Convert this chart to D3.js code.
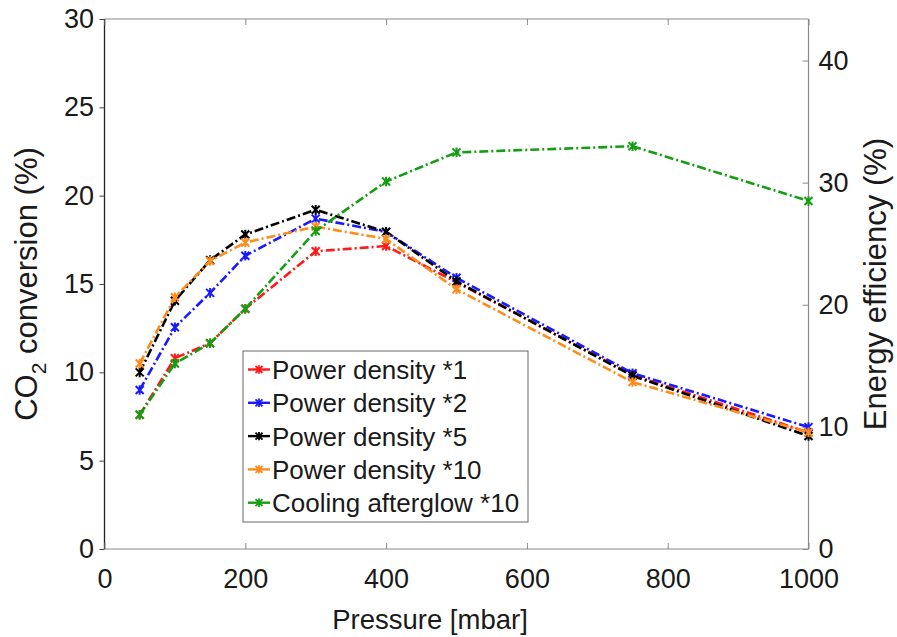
<!DOCTYPE html>
<html>
<head>
<meta charset="utf-8">
<script src="https://cdn.jsdelivr.net/npm/d3@7"></script>
<style>
  html, body { margin: 0; padding: 0; background: #fff; }
  svg text { font-family: Arial, "Liberation Sans", sans-serif; fill: #1a1a1a; }
</style>
</head>
<body>
<div id="chart"></div>
<script>
// pressure (mbar)
const pressure = [50, 100, 150, 200, 300, 400, 500, 750, 1000];

// CO2 conversion (%) per series
const pd1  = [7.6, 10.8, 11.65, 13.6, 16.85, 17.15, 15.1, 9.85, 6.6];
const pd2  = [9.0, 12.55, 14.5, 16.6, 18.7, 17.95, 15.35, 9.95, 6.9];
const pd5  = [10.0, 14.05, 16.35, 17.8, 19.2, 17.95, 15.15, 9.8, 6.4];
const pd10 = [10.5, 14.25, 16.3, 17.35, 18.25, 17.55, 14.7, 9.45, 6.6];
const cool10 = [7.6, 10.5, 11.65, 13.6, 18.0, 20.8, 22.45, 22.8, 19.7];

const seriesNames = ['Power density *1', 'Power density *2', 'Power density *5',
                     'Power density *10', 'Cooling afterglow *10'];
const seriesColors = ['#ff1a1a', '#1a1aff', '#000000', '#ff8c1a', '#149e14'];
const seriesValues = [pd1, pd2, pd5, pd10, cool10];

const xTicks = [0, 200, 400, 600, 800, 1000];
const yLeftTicks = [0, 5, 10, 15, 20, 25, 30];
const yRightTicks = [0, 10, 20, 30, 40];

const W = 897, H = 637;
const box = { left: 104.5, right: 808.5, top: 19, bottom: 549 };

const svg = d3.select('#chart').append('svg')
  .attr('width', W).attr('height', H);

const x = d3.scaleLinear().domain([0, 1000]).range([box.left, box.right]);
const yL = d3.scaleLinear().domain([0, 30]).range([box.bottom, box.top]);
const yR = d3.scaleLinear().domain([0, 43.4]).range([box.bottom, box.top]);

// frame lines
const grey = '#8a8a8a';
svg.append('line').attr('x1', box.left).attr('x2', box.right)
  .attr('y1', box.top).attr('y2', box.top).attr('stroke', grey).attr('stroke-width', 1.2);
svg.append('line').attr('x1', box.left).attr('x2', box.right)
  .attr('y1', box.bottom).attr('y2', box.bottom).attr('stroke', grey).attr('stroke-width', 1.2);
svg.append('line').attr('x1', box.right).attr('x2', box.right)
  .attr('y1', box.top).attr('y2', box.bottom).attr('stroke', grey).attr('stroke-width', 1.2);
svg.append('line').attr('x1', box.left).attr('x2', box.left)
  .attr('y1', box.top).attr('y2', box.bottom).attr('stroke', '#222').attr('stroke-width', 1.3);

const tickFont = 27;

// bottom axis (ticks inward)
const xAxis = svg.append('g')
  .attr('transform', `translate(0,${box.bottom})`)
  .call(d3.axisBottom(x).tickValues(xTicks).tickFormat(d3.format('d'))
    .tickSizeInner(-6).tickSizeOuter(0).tickPadding(20));
xAxis.select('.domain').remove();
xAxis.selectAll('.tick line').attr('stroke', grey);
xAxis.selectAll('.tick text').attr('font-size', tickFont).attr('fill', '#1a1a1a');

// top ticks (inward)
const xTop = svg.append('g')
  .attr('transform', `translate(0,${box.top})`)
  .call(d3.axisTop(x).tickValues(xTicks).tickSizeInner(-6).tickSizeOuter(0).tickFormat(''));
xTop.select('.domain').remove();
xTop.selectAll('.tick line').attr('stroke', grey);

// left axis (ticks outward)
const yAxisL = svg.append('g')
  .attr('transform', `translate(${box.left},0)`)
  .call(d3.axisLeft(yL).tickValues(yLeftTicks).tickSizeInner(5).tickSizeOuter(0).tickPadding(5.5));
yAxisL.select('.domain').remove();
yAxisL.selectAll('.tick line').attr('stroke', '#444');
yAxisL.selectAll('.tick text').attr('font-size', tickFont).attr('fill', '#1a1a1a');

// right axis (ticks inward)
const yAxisR = svg.append('g')
  .attr('transform', `translate(${box.right},0)`)
  .call(d3.axisRight(yR).tickValues(yRightTicks).tickSizeInner(-6).tickSizeOuter(0).tickPadding(10));
yAxisR.select('.domain').remove();
yAxisR.selectAll('.tick line').attr('stroke', grey);
yAxisR.selectAll('.tick text').attr('font-size', tickFont).attr('fill', '#1a1a1a');

// axis titles
svg.append('text')
  .attr('x', 430).attr('y', 629)
  .attr('text-anchor', 'middle').attr('font-size', 27.5)
  .text('Pressure [mbar]');

const yt = svg.append('text')
  .attr('transform', `translate(37,${(box.top + box.bottom) / 2}) rotate(-90)`)
  .attr('text-anchor', 'middle').attr('font-size', 31);
yt.append('tspan').text('CO');
yt.append('tspan').attr('font-size', 21).attr('dy', 9).text('2');
yt.append('tspan').attr('dy', -9).text(' conversion (%)');

svg.append('text')
  .attr('transform', `translate(886,${(box.top + box.bottom) / 2}) rotate(-90)`)
  .attr('text-anchor', 'middle').attr('font-size', 31)
  .text('Energy efficiency (%)');

// lines
const line = d3.line()
  .x((d, i) => x(pressure[i]))
  .y(d => yL(d));

const dash = '9,3,2,3';
const starPath = (s) => `M${-s},${-s}L${s},${s}M${-s},${s}L${s},${-s}M0,${-s * 1.2}L0,${s * 1.2}`;

const plot = svg.append('g');
seriesValues.forEach((vals, k) => {
  const g = plot.append('g');
  g.append('path')
    .datum(vals)
    .attr('d', line)
    .attr('fill', 'none')
    .attr('stroke', seriesColors[k])
    .attr('stroke-width', 2.6)
    .attr('stroke-dasharray', dash);
  g.selectAll('path.mk')
    .data(vals)
    .join('path')
    .attr('class', 'mk')
    .attr('transform', (d, i) => `translate(${x(pressure[i])},${yL(d)})`)
    .attr('d', starPath(4))
    .attr('fill', 'none')
    .attr('stroke', seriesColors[k])
    .attr('stroke-width', 2);
});

// legend
const lg = svg.append('g').attr('transform', 'translate(243,351)');
lg.append('rect')
  .attr('width', 285).attr('height', 171)
  .attr('fill', '#fff').attr('stroke', '#666').attr('stroke-width', 1);
seriesNames.forEach((name, k) => {
  const cy = 18.5 + k * 33.3;
  lg.append('line')
    .attr('x1', 5).attr('x2', 27).attr('y1', cy).attr('y2', cy)
    .attr('stroke', seriesColors[k]).attr('stroke-width', 2.4);
  lg.append('path')
    .attr('transform', `translate(16,${cy})`)
    .attr('d', starPath(3.5))
    .attr('fill', 'none').attr('stroke', seriesColors[k]).attr('stroke-width', 1.8);
  lg.append('text')
    .attr('x', 29).attr('y', cy + 9.5)
    .attr('font-size', 26)
    .text(name);
});
</script>
</body>
</html>
